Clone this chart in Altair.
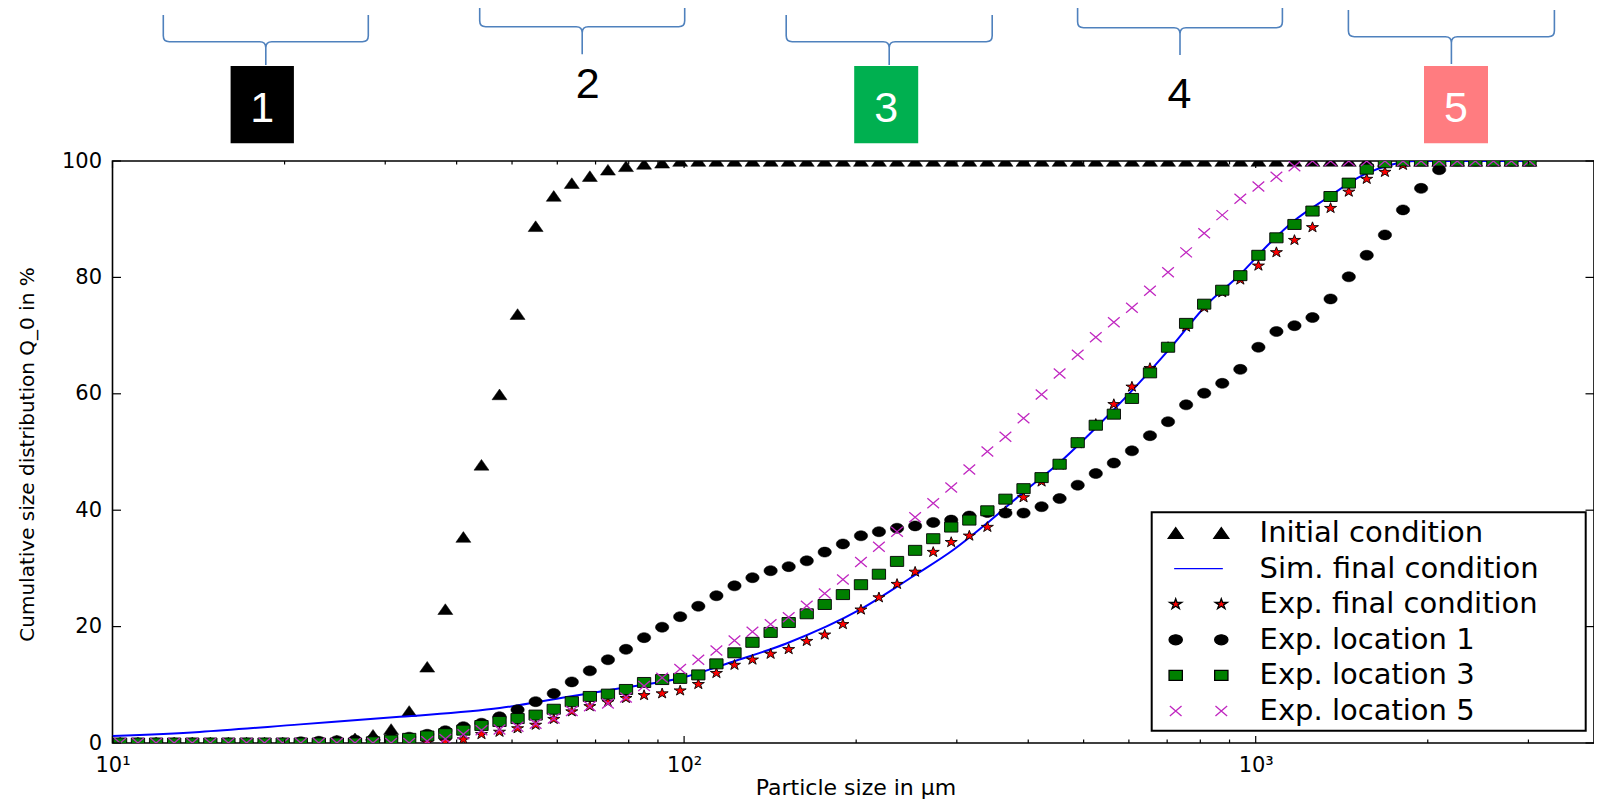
import altair as alt
import pandas as pd

# ---------------- data ----------------
particle_size = [10.31, 11.08, 11.92, 12.82, 13.79, 14.83, 15.95, 17.16, 18.45, 19.85,
                 21.35, 22.96, 24.69, 26.56, 28.56, 30.72, 33.04, 35.53, 38.22, 41.10,
                 44.21, 47.54, 51.13, 54.99, 59.15, 63.61, 68.41, 73.58, 79.13, 85.11,
                 91.53, 98.43, 105.9, 113.9, 122.5, 131.7, 141.7, 152.4, 163.9, 176.2,
                 189.6, 203.9, 219.2, 235.8, 253.6, 272.8, 293.3, 315.5, 339.3, 364.9,
                 392.5, 422.1, 453.9, 488.2, 525.1, 564.7, 607.4, 653.2, 702.5, 755.6,
                 812.6, 874.0, 939.9, 1011, 1087, 1169, 1257, 1352, 1455, 1564,
                 1683, 1810, 1947, 2094, 2252, 2422, 2605, 2801, 3013]

initial_condition = [0, 0, 0, 0, 0, 0, 0, 0, 0, 0,
                     0, 0.2, 0.4, 0.8, 1.4, 2.4, 5.5, 13.1, 23.0, 35.4,
                     47.8, 59.9, 73.7, 88.8, 94.0, 96.2, 97.4, 98.5, 99.1, 99.5,
                     99.7, 100, 100, 100, 100, 100, 100, 100, 100, 100,
                     100, 100, 100, 100, 100, 100, 100, 100, 100, 100,
                     100, 100, 100, 100, 100, 100, 100, 100, 100, 100,
                     100, 100, 100, 100, 100, 100, 100, 100, 100, 100,
                     100, 100, 100, 100, 100, 100, 100, 100, 100]

exp_final_condition = [0, 0, 0, 0, 0, 0, 0, 0, 0, 0,
                       0, 0, 0, 0, 0, 0, 0, 0.1, 0.3, 0.6,
                       1.5, 1.9, 2.5, 3.1, 4.1, 5.4, 6.3, 7.0, 7.7, 8.2,
                       8.5, 9.0, 10.1, 12.0, 13.4, 14.3, 15.3, 16.1, 17.5, 18.6,
                       20.4, 22.9, 25.0, 27.3, 29.4, 32.8, 34.5, 35.6, 37.1, 39.8,
                       42.2, 44.9, 47.8, 51.5, 54.8, 58.2, 61.2, 64.4, 68.0, 71.5,
                       74.8, 77.4, 79.6, 82.0, 84.3, 86.4, 88.6, 91.9, 94.7, 96.9,
                       98.1, 99.3, 100, 100, 100, 100, 100, 100, 100]

exp_location_1 = [0, 0, 0, 0, 0, 0, 0, 0, 0, 0,
                  0.2, 0.3, 0.4, 0.5, 0.6, 0.8, 1.0, 1.5, 2.1, 2.8,
                  3.4, 4.5, 5.7, 7.1, 8.5, 10.5, 12.4, 14.3, 16.1, 18.1,
                  19.9, 21.7, 23.5, 25.3, 27.0, 28.4, 29.6, 30.3, 31.3, 32.8,
                  34.2, 35.6, 36.3, 36.9, 37.3, 37.9, 38.3, 39.0, 39.6, 39.5,
                  39.5, 40.6, 42.0, 44.3, 46.3, 48.1, 50.2, 52.8, 55.2, 58.1,
                  60.1, 61.8, 64.2, 68.0, 70.7, 71.7, 73.1, 76.3, 80.1, 83.8,
                  87.3, 91.6, 95.3, 98.5, 100, 100, 100, 100, 100]

exp_location_3 = [0, 0, 0, 0, 0, 0, 0, 0, 0, 0,
                  0, 0, 0, 0, 0.2, 0.5, 0.8, 1.2, 1.6, 2.2,
                  3.0, 3.7, 4.2, 4.8, 5.8, 7.1, 8.0, 8.4, 9.2, 10.4,
                  10.9, 11.1, 11.7, 13.6, 15.5, 17.3, 19.0, 20.7, 22.2, 23.8,
                  25.5, 27.2, 29.0, 31.2, 33.1, 35.1, 37.1, 38.3, 39.9, 41.9,
                  43.7, 45.6, 47.9, 51.6, 54.6, 56.5, 59.2, 63.6, 68.0, 72.1,
                  75.4, 77.8, 80.3, 83.8, 86.8, 89.1, 91.4, 93.9, 96.2, 98.6,
                  99.7, 100, 100, 100, 100, 100, 100, 100, 100]

exp_location_5 = [0, 0, 0, 0, 0, 0, 0, 0, 0, 0,
                  0, 0, 0, 0, 0, 0, 0, 0.3, 0.7, 1.5,
                  2.2, 2.3, 2.8, 3.3, 4.2, 5.5, 6.3, 6.8, 7.8, 9.8,
                  11.2, 12.7, 14.3, 15.9, 17.6, 19.1, 20.4, 21.6, 23.6, 25.7,
                  28.1, 31.1, 33.7, 36.3, 38.8, 41.2, 43.9, 47.0, 50.1, 52.6,
                  55.8, 59.9, 63.5, 66.7, 69.7, 72.3, 74.8, 77.7, 80.9, 84.3,
                  87.6, 90.7, 93.5, 95.6, 97.3, 99.1, 100, 100, 100, 100,
                  100, 100, 100, 100, 100, 100, 100, 100, 100]

sim_size = [10, 14.2, 21.3, 31.8, 47.6, 62.3, 77.3, 100, 122, 151, 203, 252, 296, 343,
            398, 455, 527, 611, 708, 821, 939, 1059, 1163, 1331, 1543, 1718, 1900, 3013]
sim_final_condition = [1.2, 1.9, 3.2, 4.5, 6.0, 7.9, 9.4, 11.3, 14.0, 17.1, 22.9, 28.7, 33.2, 38.2,
                       43.6, 48.3, 54.3, 60.8, 67.8, 75.3, 80.5, 85.9, 89.6, 93.6, 97.6, 99.3, 100, 100]

series_names = ["Initial condition", "Sim. final condition", "Exp. final condition",
                "Exp. location 1", "Exp. location 3", "Exp. location 5"]

x_major_ticks = [10, 100, 1000]
x_major_labels = ["10\u00b9", "10\u00b2", "10\u00b3"]
x_minor_ticks = [20, 30, 40, 50, 60, 70, 80, 90, 200, 300, 400, 500, 600, 700, 800, 900, 2000, 3000]
y_ticks = [0, 20, 40, 60, 80, 100]
zone_labels = ["1", "2", "3", "4", "5"]

# ---------------- layout / style ----------------
LEFT, TOP = 112.5, 161.0          # page position of the plot origin
W, H = 1481.5, 582.0
DECADE = 571.6
XMAX = 10 ** (1 + W / DECADE)
FONT = "DejaVu Sans"
ANN_FONT = "Liberation Sans Narrow, Liberation Sans, sans-serif"

XS = alt.Scale(type="log", domain=[10, XMAX], nice=False)
YS = alt.Scale(domain=[0, 100], nice=False, zero=False)

label_expr = "'" + x_major_labels[-1] + "'"
for v, lab in reversed(list(zip(x_major_ticks[:-1], x_major_labels[:-1]))):
    label_expr = f"datum.value == {v} ? '{lab}' : ({label_expr})"

XAXIS = alt.Axis(values=x_major_ticks, labelExpr=label_expr, ticks=False, tickSize=0,
                 domain=False, grid=False, labelFontSize=21, labelPadding=11.4,
                 labelFlush=False, labelOverlap=False, labelColor="black", labelFont=FONT,
                 title="Particle size in \u03bcm", titleFontSize=22, titleFontWeight="normal",
                 titleColor="black", titleFont=FONT, titleX=743, titleY=51,
                 titleBaseline="alphabetic", titleAlign="center")
YAXIS = alt.Axis(values=y_ticks, ticks=False, tickSize=0, domain=False, grid=False,
                 labelFontSize=21, labelPadding=11, labelFlush=False, labelColor="black",
                 labelFont=FONT, title="Cumulative size distribution Q_0 in %",
                 titleFontSize=20, titleFontWeight="normal", titleColor="black",
                 titleFont=FONT, titleX=-85, titleY=293, titleAngle=270,
                 titleAlign="center", titleBaseline="middle")


def xenc(f):
    return alt.X(f"{f}:Q", scale=XS, axis=XAXIS)


def yenc(f):
    return alt.Y(f"{f}:Q", scale=YS, axis=YAXIS)


def f3(v):
    return f"{v:.3f}"


def poly(pts, dx=0.0):
    return "M" + " L".join(f"{f3(x + dx)},{f3(y)}" for x, y in pts) + " Z"


def ellipse(a, b, dx=0.0):
    k = 0.5523
    return (f"M{f3(-a + dx)},0 C{f3(-a + dx)},{f3(-k * b)} {f3(-k * a + dx)},{f3(-b)} {f3(dx)},{f3(-b)} "
            f"C{f3(k * a + dx)},{f3(-b)} {f3(a + dx)},{f3(-k * b)} {f3(a + dx)},0 "
            f"C{f3(a + dx)},{f3(k * b)} {f3(k * a + dx)},{f3(b)} {f3(dx)},{f3(b)} "
            f"C{f3(-k * a + dx)},{f3(b)} {f3(-a + dx)},{f3(k * b)} {f3(-a + dx)},0 Z")


def xmark(a, b, dx=0.0):
    return (f"M{f3(-a + dx)},{f3(-b)} L{f3(a + dx)},{f3(b)} "
            f"M{f3(-a + dx)},{f3(b)} L{f3(a + dx)},{f3(-b)}")


TRI = [(-1.5, 1.07), (0, -1.07), (1.5, 1.07)]
SQR = [(-1.33, -1.0), (1.33, -1.0), (1.33, 1.0), (-1.33, 1.0)]
STAR = [(0, -1.1), (0.284, -0.34), (1.203, -0.34), (0.459, 0.13), (0.744, 0.89),
        (0, 0.42), (-0.744, 0.89), (-0.459, 0.13), (-1.203, -0.34), (-0.284, -0.34)]

shape_tri = poly(TRI)
shape_sqr = poly(SQR)
shape_star = poly(STAR)
shape_circ = ellipse(1.33, 1.0)
shape_x = xmark(1.17, 1.0)

D = 4.56
legend_shapes = [
    poly(TRI, -D) + " " + poly(TRI, D),
    "M-4.87,0 L4.87,0",
    poly(STAR, -D) + " " + poly(STAR, D),
    ellipse(1.33, 1.0, -D) + " " + ellipse(1.33, 1.0, D),
    poly(SQR, -D) + " " + poly(SQR, D),
    xmark(1.17, 1.0, -D) + " " + xmark(1.17, 1.0, D),
]
legend_fills = ["black", "transparent", "#ff0000", "black", "#008000", "transparent"]
legend_strokes = ["black", "#0000ff", "black", "black", "black", "#c026c0"]


def points(values, shape, fill, stroke, sw):
    df = pd.DataFrame({"size": particle_size, "q0": values})
    return alt.Chart(df).mark_point(shape=shape, size=100, filled=True, fill=fill,
                                    stroke=stroke, strokeWidth=sw, opacity=1,
                                    clip=True).encode(x=xenc("size"), y=yenc("q0"))


layers = []
layers.append(points(initial_condition, shape_tri, "black", "black", 0.5))
layers.append(alt.Chart(pd.DataFrame({"size": sim_size, "q0": sim_final_condition}))
              .mark_line(color="#0000ff", strokeWidth=2, interpolate="monotone", clip=True)
              .encode(x=xenc("size"), y=yenc("q0")))
layers.append(points(exp_final_condition, shape_star, "#ff0000", "black", 0.9))
layers.append(points(exp_location_1, shape_circ, "black", "black", 0.5))
layers.append(points(exp_location_3, shape_sqr, "#008000", "black", 0.9))
layers.append(points(exp_location_5, shape_x, "transparent", "#c026c0", 1.3))

# ---------------- inward ticks (matplotlib style) ----------------
df_xmaj = pd.DataFrame({"t": x_major_ticks})
df_xmin = pd.DataFrame({"t": x_minor_ticks})
df_y = pd.DataFrame({"t": y_ticks})
TICK = dict(color="black", strokeWidth=1.2)
for df, ln in ((df_xmaj, 7.0), (df_xmin, 3.5)):
    layers.append(alt.Chart(df).mark_rule(**TICK).encode(
        x=xenc("t"), y=alt.value(H), y2=alt.value(H - ln)))
    layers.append(alt.Chart(df).mark_rule(**TICK).encode(
        x=xenc("t"), y=alt.value(0), y2=alt.value(ln)))
layers.append(alt.Chart(df_y).mark_rule(**TICK).encode(
    y=yenc("t"), x=alt.value(0), x2=alt.value(8.5)))
layers.append(alt.Chart(df_y).mark_rule(**TICK).encode(
    y=yenc("t"), x=alt.value(W), x2=alt.value(W - 8.5)))

# ---------------- legend ----------------
# legend frame (white box with black border) drawn above the data marks
layers.append(alt.Chart(pd.DataFrame({"box": ["legend"]})).mark_rect(
    fill="white", stroke="black", strokeWidth=2).encode(
    x=alt.value(1151.7 - LEFT), x2=alt.value(1585.7 - LEFT),
    y=alt.value(512.3 - TOP), y2=alt.value(730.7 - TOP)))

leg = alt.Legend(title=None, orient="none", legendX=1151.7 - LEFT, legendY=511.5 - TOP,
                 padding=7, rowPadding=5.6, symbolOffset=25.3, labelOffset=46.6,
                 labelFont=FONT, labelFontSize=29, labelColor="black", labelLimit=2000,
                 symbolSize=100, symbolStrokeWidth=1.3)
layers.append(alt.Chart(alt.Data(values=[])).mark_point(filled=True, opacity=1, size=100).encode(
    shape=alt.Shape("series:N", scale=alt.Scale(domain=series_names, range=legend_shapes), legend=leg),
    fill=alt.Fill("series:N", scale=alt.Scale(domain=series_names, range=legend_fills), legend=leg),
    stroke=alt.Stroke("series:N", scale=alt.Scale(domain=series_names, range=legend_strokes), legend=leg),
))

# ---------------- zone annotations above the plot ----------------
def brace_path(half, up, down, unit=50.0):
    h, u, d, c = half / unit, up / unit, down / unit, 6.0 / unit
    return (f"M{f3(-h)},{f3(-u)} L{f3(-h)},{f3(-c)} Q{f3(-h)},0 {f3(-h + c)},0 L{f3(-c)},0 "
            f"Q0,0 0,{f3(c)} L0,{f3(d)} M0,{f3(c)} Q0,0 {f3(c)},0 L{f3(h - c)},0 "
            f"Q{f3(h)},0 {f3(h)},{f3(-c)} L{f3(h)},{f3(-u)}")

# (centre x, bar y, half width, up, down) in page pixels
braces = [(265.8, 41.7, 102.5, 26.7, 23.3),
          (582.2, 26.7, 102.5, 40.0, 27.6),
          (889.2, 41.7, 103.0, 26.7, 23.3),
          (1180.0, 27.7, 102.4, 40.0, 27.3),
          (1451.4, 36.7, 103.0, 26.7, 27.3)]
# (x0, x1, y0, y1, fill) or None
boxes = [(230.6, 293.9, 66.0, 143.3, "black"), None,
         (854.2, 918.2, 66.0, 143.3, "#00b050"), None,
         (1424.0, 1488.0, 66.0, 143.3, "#ff7c80")]
# (centre x, baseline y, colour)
digits = [(262.3, 121.7, "white"), (587.8, 98.3, "black"), (886.2, 121.7, "white"),
          (1179.5, 108.3, "black"), (1456.0, 121.7, "white")]

for lab, br, bx, dg in zip(zone_labels, braces, boxes, digits):
    zdf = pd.DataFrame({"zone": [lab]})
    cx, by, half, up, down = br
    layers.append(alt.Chart(zdf).mark_point(shape=brace_path(half, up, down), size=10000,
                                            filled=False, stroke="#4f81bd", strokeWidth=1.6,
                                            opacity=1).encode(
        x=alt.value(cx - LEFT), y=alt.value(by - TOP)))
    if bx is not None:
        x0, x1, y0, y1, c = bx
        layers.append(alt.Chart(zdf).mark_rect(color=c).encode(
            x=alt.value(x0 - LEFT), x2=alt.value(x1 - LEFT),
            y=alt.value(y0 - TOP), y2=alt.value(y1 - TOP)))
    tx, ty, tc = dg
    layers.append(alt.Chart(zdf).mark_text(font=ANN_FONT, fontSize=43, color=tc,
                                           align="center", baseline="alphabetic").encode(
        x=alt.value(tx - LEFT), y=alt.value(ty - TOP), text="zone:N"))

chart = (alt.layer(*layers)
         .properties(width=W, height=H,
                     padding={"left": LEFT - 8, "top": TOP - 8, "right": 0, "bottom": 792 - (TOP - 8) - H},
                     autosize=alt.AutoSizeParams(type="none"))
         .configure(font=FONT)
         .configure_view(stroke="black", strokeWidth=1.6))

chart.save("out.html", embed_options={"renderer": "svg", "actions": False})
